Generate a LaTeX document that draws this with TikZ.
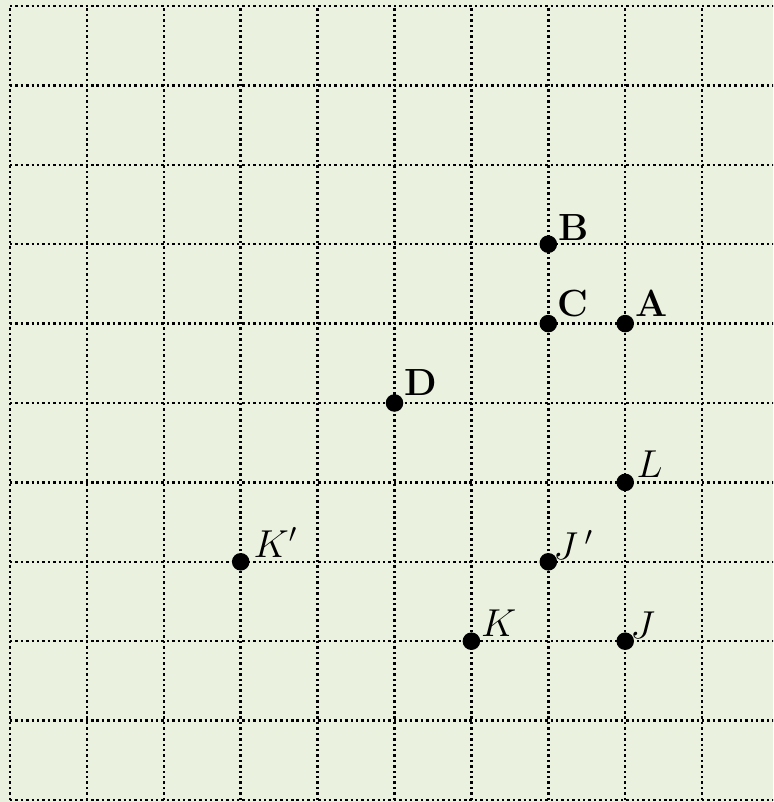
\documentclass[tikz,border=0pt]{standalone}
\definecolor{bgreen}{RGB}{234,242,223}
\begin{document}
\begin{tikzpicture}[x=1cm,y=1.0325cm,
  gridline/.style={black,line width=0.9pt,dash pattern=on 0.9pt off 1.1pt},
  dot/.style={circle,fill=black,inner sep=0pt,minimum size=6.5pt},
  lab/.style={anchor=base west,inner sep=0pt,font=\fontsize{14}{16}\selectfont}]
\fill[bgreen] (-0.130,-0.025) rectangle (9.922,10.0756);
\useasboundingbox (-0.130,-0.025) rectangle (9.922,10.0756);
\begin{scope}
\clip (-0.130,-0.025) rectangle (9.922,10.0756);
\foreach \r in {0,...,10} \draw[gridline] (0,\r) -- (10.2,\r);
\foreach \c in {0,...,10} \draw[gridline] (\c,0) -- (\c,10);
\end{scope}
% points (y = 10 - row)
\node[dot] (B) at (7,7) {};
\node[dot] (C) at (7,6) {};
\node[dot] (A) at (8,6) {};
\node[dot] (D) at (5,5) {};
\node[dot] (L) at (8,4) {};
\node[dot] (Kp) at (3,3) {};
\node[dot] (Jp) at (7,3) {};
\node[dot] (K) at (6,2) {};
\node[dot] (J) at (8,2) {};
% labels
\node[lab] (lB) at ([shift={(0.12,0.05)}]B.center) {\textbf{B}};
\node[lab] (lC) at ([shift={(0.11,0.09)}]C.center) {\textbf{C}};
\node[lab] (lA) at ([shift={(0.13,0.09)}]A.center) {\textbf{A}};
\node[lab] (lD) at ([shift={(0.12,0.10)}]D.center) {\textbf{D}};
\node[lab] (lL) at ([shift={(0.14,0.06)}]L.center) {$L$};
\node[lab] (lKp) at ([shift={(0.16,0.06)}]Kp.center) {$K'$};
\node[lab] (lJp) at ([shift={(0.06,0.03)}]Jp.center) {$J\,'$};
\node[lab] (lK) at ([shift={(0.12,0.06)}]K.center) {$K$};
\node[lab] (lJ) at ([shift={(0.06,0.04)}]J.center) {$J$};
\end{tikzpicture}
\end{document}
